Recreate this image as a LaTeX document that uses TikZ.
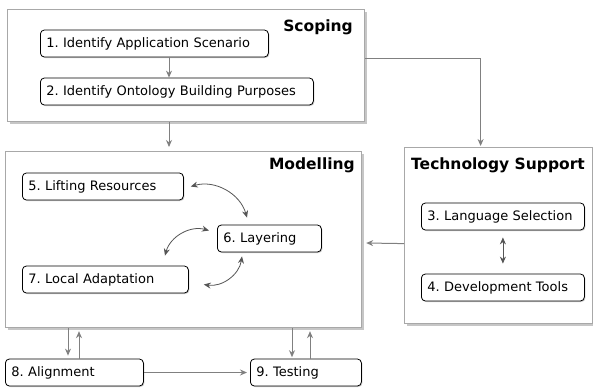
\documentclass[tikz,border=0pt]{standalone}
\usepackage{fontspec}
\setmainfont{DejaVu Sans}
\usetikzlibrary{arrows.meta,shadows,calc}
\definecolor{conn}{HTML}{808080}
\definecolor{curv}{HTML}{555555}
\definecolor{frameline}{HTML}{A8A8A8}
\frenchspacing
\tikzset{
  phase/.style={draw=frameline, line width=1.2pt, fill=white, anchor=north west,
    drop shadow={shadow xshift=2pt, shadow yshift=-2pt, opacity=0.45, fill=gray},
    inner sep=0pt},
  stepbox/.style={draw=black, line width=0.8pt, rounded corners=4pt, fill=white,
    anchor=west, minimum height=27pt, inner xsep=6pt, inner ysep=0pt, align=left,
    font=\fontsize{13}{15}\selectfont,
    drop shadow={shadow xshift=1pt, shadow yshift=-1pt, opacity=0.4, fill=gray}},
  phasetitle/.style={font=\bfseries\fontsize{15.5}{17}\selectfont, inner sep=0pt},
  arr/.style={draw=conn, line width=1pt, -{Stealth[length=7pt,width=6pt]}},
  darr/.style={draw=curv, line width=0.8pt, {Stealth[length=7pt,width=6pt]}-{Stealth[length=7pt,width=6pt]}},
}
\begin{document}
\begin{tikzpicture}[x=1pt,y=-1pt]
\useasboundingbox (0,0) rectangle (593,388);
% phase frames
\node[phase, minimum width=357pt, minimum height=112pt] (scope) at (7,9) {};
\node[phase, minimum width=356pt, minimum height=176pt] (model) at (5,151) {};
\node[phase, minimum width=188pt, minimum height=176pt] (tech) at (404,147) {};
% titles
\node[phasetitle, anchor=east] (tscope) at (353,27) {Scoping};
\node[phasetitle, anchor=east] (tmodel) at (355,165) {Modelling};
\node[phasetitle] (ttech) at (498,165) {Technology Support};
% steps
\node[stepbox, text width=216pt] (s1) at (40,43.5) {1. Identify Application Scenario};
\node[stepbox, text width=261pt] (s2) at (40,91.5) {2. Identify Ontology Building Purposes};
\node[stepbox, text width=151pt] (s3) at (421,216.5) {3. Language Selection};
\node[stepbox, text width=151pt] (s4) at (421,287.5) {4. Development Tools};
\node[stepbox, text width=149pt] (s5) at (22,186.5) {5. Lifting Resources};
\node[stepbox, text width=92pt] (s6) at (217,238.5) {6. Layering};
\node[stepbox, text width=154pt] (s7) at (22,279.5) {7. Local Adaptation};
\node[stepbox, text width=126pt] (s8) at (5,372.5) {8. Alignment};
\node[stepbox, text width=99pt] (s9) at (250,372.5) {9. Testing};
% connectors
\draw[arr] (s1.south -| 169,0) -- (s2.north -| 169,0);
\draw[arr] (scope.south -| 169,0) -- ($(model.north -| 169,0)+(0,-4)$);
\draw[arr] ($(scope.north east)+(0,49)$) -| ($(tech.north)+(-18,-1)$);
\draw[arr] ($(tech.west)+(0,8)$) -- ($(model.east |- 0,243)+(4,0)$);
\draw[darr] (s3.south) ++(0,7) coordinate (a3) -- ($(s4.north)+(0,-10)$);
\draw[darr] ($(s5.east)+(7,0)$) to[bend left=45] ($(s6.north west)+(30,-7)$);
\draw[darr] ($(s6.west)+(-8,-8)$) to[bend right=45] ($(s7.north west)+(143,-10)$);
\draw[darr] ($(s6.south west)+(25,4)$) to[bend left=45] ($(s7.east)+(15,5)$);
\draw[arr] ($(model.south west)+(63,0)$) -- ($(s8.north west)+(63,-3)$);
\draw[arr] ($(s8.north west)+(74,0)$) -- ($(model.south west)+(74,3)$);
\draw[arr] ($(model.south west)+(287,0)$) -- ($(model.south west)+(287,29)$);
\draw[arr] ($(s9.north west)+(60,0)$) -- ($(model.south west)+(305,3)$);
\draw[arr] (s8.east) -- ($(s9.west)+(-3,0)$);
\end{tikzpicture}
\end{document}
